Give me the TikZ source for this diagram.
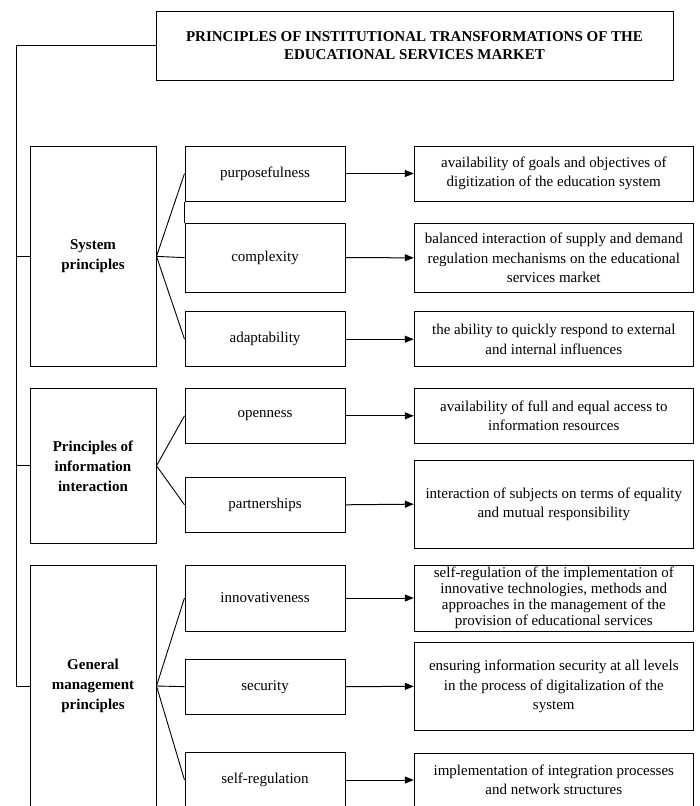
\documentclass[tikz,border=0pt]{standalone}
\usepackage{fontspec}
\setmainfont{Liberation Serif}
\usetikzlibrary{arrows.meta}
\begin{document}
\begin{tikzpicture}[x=1pt,y=-1pt,
  font=\fontsize{15}{19.5}\selectfont,
  box/.style={draw, line width=1pt, inner sep=0pt, align=center},
  lbox/.style={box, minimum width=126pt, font=\fontsize{15}{20}\selectfont\bfseries},
  mbox/.style={box, minimum width=160pt},
  rbox/.style={box, minimum width=279pt},
  conn/.style={line width=0.9pt},
  arr/.style={line width=1pt, -{Triangle[length=9pt,width=7pt]}}
]
\clip (0,0) rectangle (700,806);
\fill[white] (0,0) rectangle (700,806);

% title
\node[box, minimum width=517pt, minimum height=69pt, font=\fontsize{15}{18}\selectfont\bfseries] (title) at (414.5,45.5)
  {PRINCIPLES OF INSTITUTIONAL TRANSFORMATIONS OF THE\\EDUCATIONAL SERVICES MARKET};

% left column
\node[lbox, minimum height=220.7pt] (sys) at (93,256.35) {System\\principles};
\node[lbox, minimum height=155pt] (info) at (93,465.8) {Principles of\\information\\interaction};
\node[lbox, minimum height=242pt] (gen) at (93,686) {General\\management\\principles};

% middle column
\node[mbox, minimum height=55pt] (purp) at (265,173.5) {purposefulness};
\node[mbox, minimum height=69.3pt] (comp) at (265,257.65) {complexity};
\node[mbox, minimum height=55pt] (adapt) at (265,339.2) {adaptability};
\node[mbox, minimum height=55pt] (open) at (265,415.8) {openness};
\node[mbox, minimum height=55pt] (part) at (265,504.8) {partnerships};
\node[mbox, minimum height=66pt] (innov) at (265,598) {innovativeness};
\node[mbox, minimum height=54.7pt] (secu) at (265,686.65) {security};
\node[mbox, minimum height=54.6pt] (selfreg) at (265,780) {self-regulation};

% right column
\node[rbox, minimum height=55pt] (d1) at (553.8,173.5)
  {availability of goals and objectives of\\digitization of the education system};
\node[rbox, minimum height=69pt] (d2) at (553.8,257.8)
  {balanced interaction of supply and demand\\regulation mechanisms on the educational\\services market};
\node[rbox, minimum height=55pt] (d3) at (553.8,339.2)
  {the ability to quickly respond to external\\and internal influences};
\node[rbox, minimum height=55pt] (d4) at (553.8,415.8)
  {availability of full and equal access to\\information resources};
\node[rbox, minimum height=88.3pt] (d5) at (553.8,504.15)
  {interaction of subjects on terms of equality\\and mutual responsibility};
\node[rbox, minimum height=66pt, font=\fontsize{15}{16}\selectfont] (d6) at (553.8,598)
  {self-regulation of the implementation of\\innovative technologies, methods and\\approaches in the management of the\\provision of educational services};
\node[rbox, minimum height=87.3pt] (d7) at (553.8,686.35)
  {ensuring information security at all levels\\in the process of digitalization of the\\system};
\node[rbox, minimum height=53.4pt] (d8) at (553.8,780)
  {implementation of integration processes\\and network structures};

% trunk on the left
\coordinate (corner) at (16,45.5);
\draw[conn] (title.west) -- (corner) |- (gen.west);
\draw[conn] (corner |- sys.west) -- (sys.west);
\draw[conn] (corner |- info.west) -- (info.west);

% fans
\draw[conn] (sys.east) -- (purp.west);
\draw[conn] (sys.east) -- (comp.west);
\draw[conn] (sys.east) -- (adapt.west);
\draw[conn] (purp.south west) -- (comp.north west);
\draw[conn] (info.east) -- (open.west);
\draw[conn] (info.east) -- (part.west);
\draw[conn] (gen.east) -- (innov.west);
\draw[conn] (gen.east) -- (secu.west);
\draw[conn] (gen.east) -- (selfreg.west);

% arrows
\draw[arr] (purp.east) -- (d1.west);
\draw[arr] (comp.east) -- (d2.west);
\draw[arr] (adapt.east) -- (d3.west);
\draw[arr] (open.east) -- (d4.west);
\draw[arr] (part.east) -- (d5.west);
\draw[arr] (innov.east) -- (d6.west);
\draw[arr] (secu.east) -- (d7.west);
\draw[arr] (selfreg.east) -- (d8.west);
\end{tikzpicture}
\end{document}
